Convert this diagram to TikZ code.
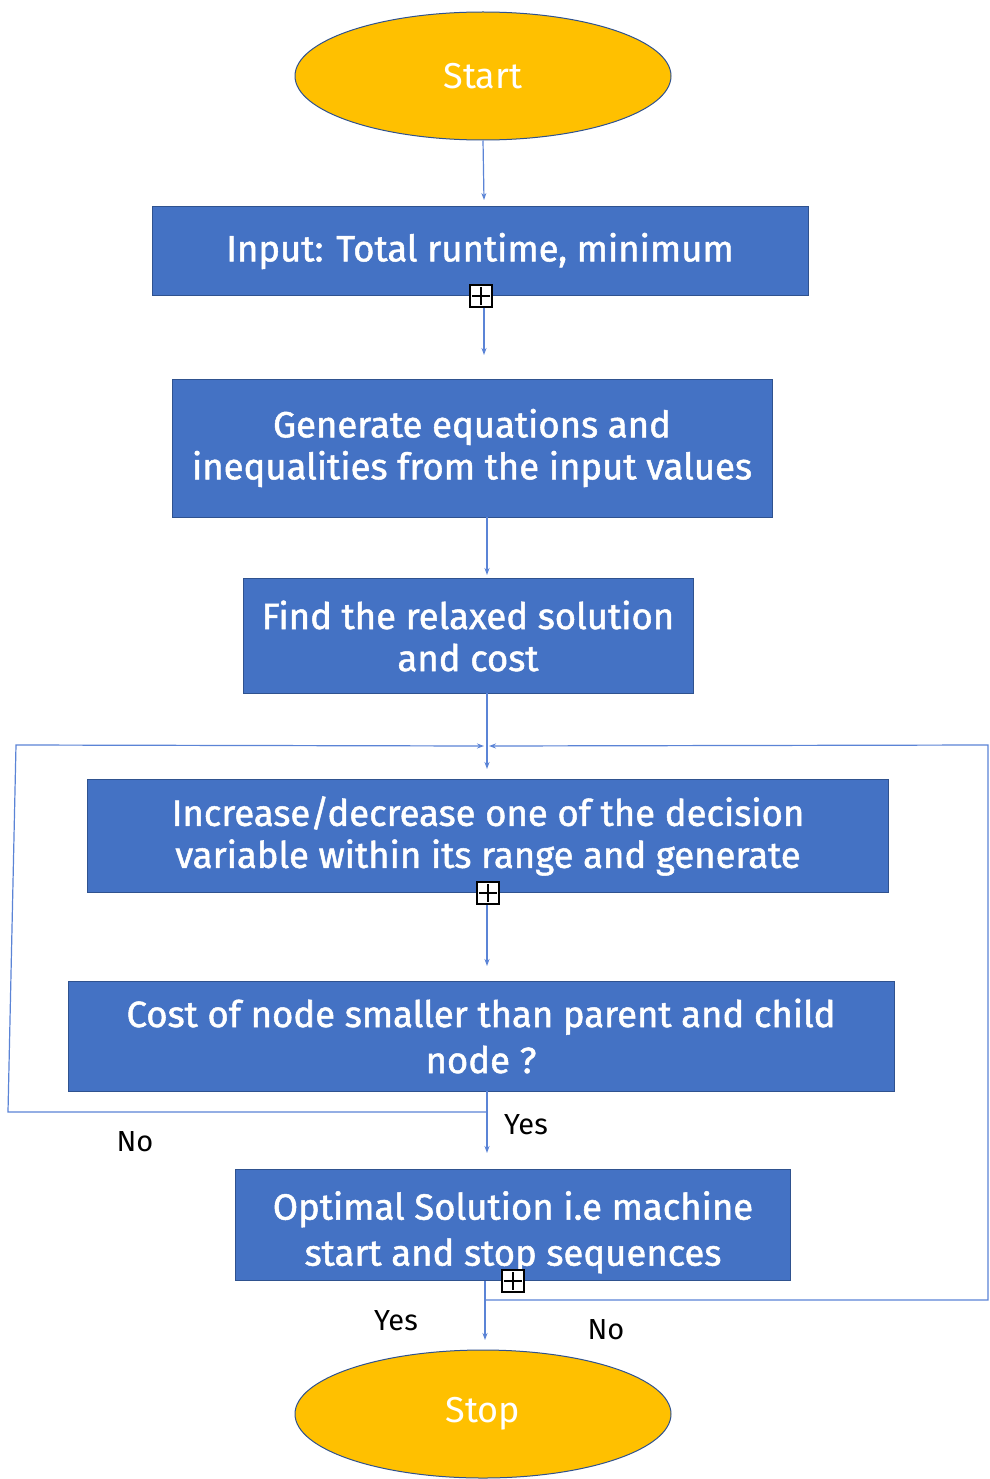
\documentclass[tikz,border=0pt]{standalone}
\usepackage{fontspec}
\setmainfont{Fira Sans}
\newfontfamily\boxfont{Fira Sans}[FakeBold=1.4]
\usetikzlibrary{arrows.meta,shapes.geometric}
\definecolor{boxblue}{HTML}{4472C4}
\definecolor{boxedge}{HTML}{2F528F}
\definecolor{termgold}{HTML}{FFC000}
\definecolor{linkblue}{HTML}{5B84D6}
\tikzset{
  stepbox/.style={draw=boxedge, line width=1pt, fill=boxblue, text=white,
    font=\boxfont\fontsize{36.5}{42}\selectfont, align=center, inner sep=0pt},
  widelead/.style={font=\boxfont\fontsize{36.5}{46}\selectfont},
  terminal/.style={ellipse, draw=boxedge, line width=1pt, fill=termgold, text=white,
    font=\fontsize{36}{40}\selectfont, minimum width=376pt, minimum height=128pt, inner sep=0pt},
  conn/.style={draw=linkblue, line width=1.2pt},
  arr/.style={conn, -{Stealth[length=7pt,width=5pt]}},
  plusbox/.style={draw=black, fill=white, line width=1.3pt, minimum size=22pt, inner sep=0pt,
    path picture={\draw[line width=1.3pt] ([yshift=-2pt]path picture bounding box.north) -- ([yshift=2pt]path picture bounding box.south)
      ([xshift=2pt]path picture bounding box.west) -- ([xshift=-2pt]path picture bounding box.east);}},
  lbl/.style={font=\fontsize{29}{32}\selectfont, text=black}
}
\begin{document}
\begin{tikzpicture}[x=1pt, y=-1pt]
\useasboundingbox[fill=white] (0,0) rectangle (989,1479);

% terminals
\node[terminal] (start) at (483,76) {Start};
\node[terminal] (stop) at (483,1414) {Stop};

% process boxes
\node[stepbox, minimum width=656pt, minimum height=88pt] (input) at (480,251)
  {Input: Total runtime, minimum};
\node[stepbox, minimum width=600pt, minimum height=138pt] (gen) at (472,448)
  {Generate equations and\\inequalities from the input values};
\node[stepbox, minimum width=450pt, minimum height=115pt] (relax) at (468,636)
  {Find the relaxed solution\\and cost};
\node[stepbox, minimum width=801pt, minimum height=113pt] (vary) at (488,836)
  {Increase/decrease one of the decision\\variable within its range and generate};
\node[stepbox, widelead, minimum width=826pt, minimum height=110pt] (cost) at (481,1036)
  {Cost of node smaller than parent and child\\node ?};
% the strut on the first line pushes this text a little lower in its box
\node[stepbox, widelead, minimum width=555pt, minimum height=111pt] (opt) at (513,1225)
  {\rule{0pt}{43pt}Optimal Solution i.e machine\\start and stop sequences};

% expander marks on box edges
\node[plusbox] (plus1) at (481,296) {};
\node[plusbox] (plus2) at (488,893) {};
\node[plusbox] (plus3) at (513,1281) {};

% main flow
\coordinate (a1) at (484,200);
\draw[arr] (start.south) -- (a1);
\coordinate (b1) at (484,355);
\draw[arr] (plus1.south -| b1) -- (b1);
\coordinate (c0) at (487,517);
\coordinate (c1) at (487,575);
\draw[arr] (c0) -- (c1);
\coordinate (d0) at (487,693);
\coordinate (d1) at (487,769);
\draw[arr] (d0) -- (d1);
\coordinate (e0) at (487,905);
\coordinate (e1) at (487,966);
\draw[arr] (e0) -- (e1);
\coordinate (f0) at (487,1091);
\coordinate (f1) at (487,1153);
\draw[arr] (f0) -- (f1);
\coordinate (g0) at (485,1281);
\coordinate (g1) at (485,1340);
\draw[arr] (g0) -- (g1);

% loop back on "No" from the cost test
\coordinate (nobr) at (487,1112);
\coordinate (lb) at (8,1112);
\coordinate (lt) at (16,745);
\coordinate (lin) at (484,746);
\draw[arr] (nobr) -- (lb) -- (lt) -- (lin);

% loop back on "No" after the optimal solution
\coordinate (rbr) at (485,1300);
\coordinate (rb) at (988,1300);
\coordinate (rt) at (988,745);
\coordinate (rin) at (489,746);
\draw[arr] (rbr) -- (rb) -- (rt) -- (rin);

% branch labels
\node[lbl] (yes1) at (526,1125) {Yes};
\node[lbl] (no1) at (135,1142) {No};
\node[lbl] (yes2) at (396,1321) {Yes};
\node[lbl] (no2) at (606,1330) {No};
\end{tikzpicture}
\end{document}
